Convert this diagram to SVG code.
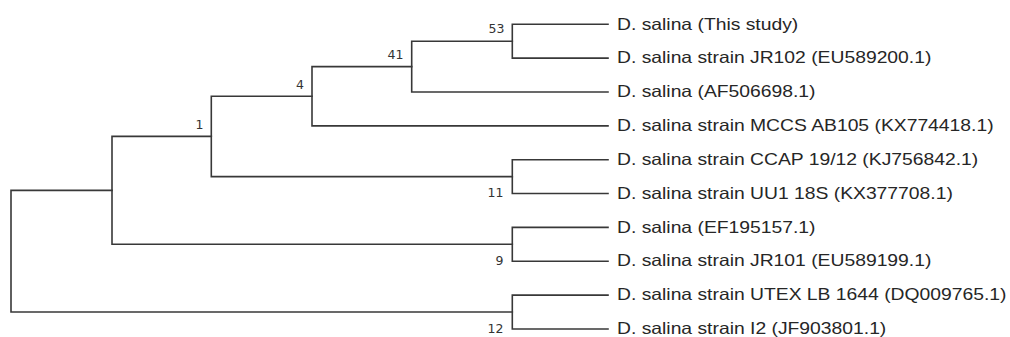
<svg xmlns="http://www.w3.org/2000/svg" width="1010" height="337" viewBox="0 0 1010 337">
<style>
.br{fill:none;stroke:#383838;stroke-width:1.6;stroke-linecap:square}
.leaf{font-family:"Liberation Sans",Arial,sans-serif;font-size:16.3px;fill:#262626}
.bs{font-family:"DejaVu Sans",Verdana,sans-serif;font-size:12.5px;fill:#333;text-anchor:end}
</style>
<rect width="1010" height="337" fill="#fff"/>
<g id="connectors">
<path class="br" d="M512.3,24.3V58.15M512.3,24.3H608M512.3,58.15H608"/>
<path class="br" d="M411.7,41.2V92M411.7,41.2H512.3M411.7,92H608"/>
<path class="br" d="M312,66.6V125.85M312,66.6H411.7M312,125.85H608"/>
<path class="br" d="M512.3,159.7V193.55M512.3,159.7H608M512.3,193.55H608"/>
<path class="br" d="M211.3,96.2V176.6M211.3,96.2H312M211.3,176.6H512.3"/>
<path class="br" d="M512.3,227.4V261.25M512.3,227.4H608M512.3,261.25H608"/>
<path class="br" d="M112,136.4V244.3M112,136.4H211.3M112,244.3H512.3"/>
<path class="br" d="M512.3,295.1V328.95M512.3,295.1H608M512.3,328.95H608"/>
<path class="br" d="M11,190.4V312M11,190.4H112M11,312H512.3"/>
</g>
<g id="bootstrap">
<text class="bs" x="504.5" y="33">53</text>
<text class="bs" x="403.5" y="59">41</text>
<text class="bs" x="304" y="88.5">4</text>
<text class="bs" x="203.5" y="129">1</text>
<text class="bs" x="503.5" y="197">11</text>
<text class="bs" x="503.5" y="265">9</text>
<text class="bs" x="503.5" y="333">12</text>
</g>
<g id="leaf1"><text class="leaf" transform="translate(617,29.5) scale(1.185,1)">D. salina (This study)</text></g>
<g id="leaf2"><text class="leaf" transform="translate(617,63.3) scale(1.185,1)">D. salina strain JR102 (EU589200.1)</text></g>
<g id="leaf3"><text class="leaf" transform="translate(617,97.2) scale(1.185,1)">D. salina (AF506698.1)</text></g>
<g id="leaf4"><text class="leaf" transform="translate(617,131) scale(1.185,1)">D. salina strain MCCS AB105 (KX774418.1)</text></g>
<g id="leaf5"><text class="leaf" transform="translate(617,164.9) scale(1.185,1)">D. salina strain CCAP 19/12 (KJ756842.1)</text></g>
<g id="leaf6"><text class="leaf" transform="translate(617,198.7) scale(1.185,1)">D. salina strain UU1 18S (KX377708.1)</text></g>
<g id="leaf7"><text class="leaf" transform="translate(617,232.6) scale(1.185,1)">D. salina (EF195157.1)</text></g>
<g id="leaf8"><text class="leaf" transform="translate(617,266.4) scale(1.185,1)">D. salina strain JR101 (EU589199.1)</text></g>
<g id="leaf9"><text class="leaf" transform="translate(617,300.3) scale(1.185,1)">D. salina strain UTEX LB 1644 (DQ009765.1)</text></g>
<g id="leaf10"><text class="leaf" transform="translate(617,334.1) scale(1.185,1)">D. salina strain I2 (JF903801.1)</text></g>
</svg>
